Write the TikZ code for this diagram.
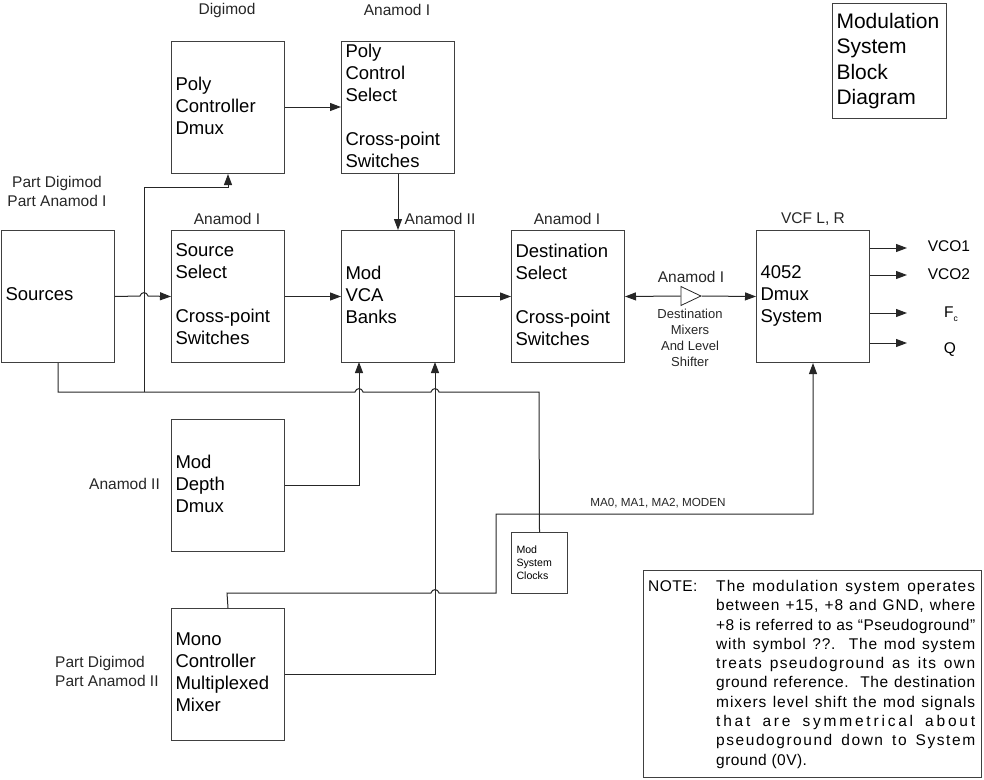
\documentclass[tikz,border=0pt]{standalone}
\usepackage{fontspec}
\setmainfont{Liberation Sans}
\usetikzlibrary{arrows.meta,shapes.geometric}

\newcommand{\hopat}[2]{-- ({#1-4},#2) .. controls ({#1-3},{#2-4.5}) and ({#1+3},{#2-4.5}) .. ({#1+4},#2)}
\newcommand{\noteline}[2][0]{\makebox[259pt][s]{\addfontfeature{LetterSpace=#1}#2}\\}

\tikzset{
  blockbox/.style={draw=black!75,line width=1pt,anchor=north west,minimum height=132pt,text width=105pt,
    inner xsep=4pt,inner ysep=0pt,align=left,font=\fontsize{18.5}{22}\selectfont,
    execute at end node={\\[-18pt]\mbox{}}},
  titlebox/.style={draw=black!75,line width=1pt,anchor=north west,minimum height=115pt,text width=106pt,
    inner xsep=4pt,inner ysep=0pt,align=left,font=\fontsize{21}{25.5}\selectfont},
  tag/.style={inner sep=0pt,align=center,text=black!85,font=\fontsize{15.5}{19}\selectfont},
  outtag/.style={inner sep=0pt,font=\fontsize{15.5}{19}\selectfont},
  wire/.style={draw=black!85,line width=1pt,>={Triangle[length=11pt,width=8pt]}}
}

\begin{document}
\begin{tikzpicture}[x=1pt,y=-1pt]
\useasboundingbox (0,0) rectangle (984,779);

\node[blockbox] (polydmux) at (171,41) {Poly\\Controller\\Dmux};
\node[blockbox] (polysel) at (341,41) {Poly\\Control\\Select\\\mbox{}\\Cross-point\\Switches};
\node[blockbox] (sources) at (1,230) {Sources};
\node[blockbox] (srcsel) at (171,230) {Source\\Select\\\mbox{}\\Cross-point\\Switches};
\node[blockbox] (vca) at (341,230) {Mod\\VCA\\Banks};
\node[blockbox] (dstsel) at (511,230) {Destination\\Select\\\mbox{}\\Cross-point\\Switches};
\node[blockbox] (dmux) at (756,230) {4052\\Dmux\\System};
\node[blockbox] (depth) at (171,419) {Mod\\Depth\\Dmux};
\node[blockbox] (mono) at (171,608) {Mono\\Controller\\Multiplexed\\Mixer};
\node[draw=black!75,line width=1pt,anchor=north west,minimum height=61pt,text width=46pt,inner xsep=5pt,
  inner ysep=0pt,align=left,font=\fontsize{10.6}{13}\selectfont] (clocks) at (511,532) {Mod\\System\\Clocks};
\node[titlebox] (title) at (832,3) {Modulation\\System\\Block\\Diagram};

\node[draw=black!75,line width=1pt,anchor=north west,minimum width=338pt,minimum height=207pt] (notebox) at (643,570) {};
\node[anchor=north west,inner sep=0pt,font=\fontsize{15.5}{19}\addfontfeature{LetterSpace=3}\selectfont] (notehead) at (648,580) {NOTE:};
\node[anchor=north west,inner sep=0pt,align=left,font=\fontsize{15.5}{19.3}\selectfont] (notetext) at (716,580) {%
  \noteline[7]{The modulation system operates}
  \noteline[5]{between +15, +8 and GND, where}
  \noteline[3]{+8 is referred to as “Pseudoground”}
  \noteline[5]{with symbol ??.\ \ The mod system}
  \noteline[9]{treats pseudoground as its own}
  \noteline[4]{ground reference.\ \ The destination}
  \noteline[6]{mixers level shift the mod signals}
  \noteline[18]{that are symmetrical about}
  \noteline[10]{pseudoground down to System}
  \addfontfeature{LetterSpace=3}ground (0V).};

\node[tag] (lbdigi) at (227,10) {Digimod};
\node[tag] (lbsel) at (397,10) {Anamod I};
\node[tag] (lbparts) at (57,191.5) {Part Digimod\\Part Anamod I};
\node[tag] (lbsrc) at (227,219) {Anamod I};
\node[tag] (lbvca) at (440,219) {Anamod II};
\node[tag] (lbdst) at (567,219) {Anamod I};
\node[tag] (lbvcf) at (813,219) {VCF L, R};
\node[tag] (lbamp) at (691,277) {Anamod I};
\node[tag,font=\fontsize{13}{16}\selectfont] (lbmix) at (690,338) {Destination\\Mixers\\And Level\\Shifter};
\node[tag] (lbdepth) at (124.5,484) {Anamod II};
\node[tag,align=left,anchor=west] (lbmono) at (55,671.5) {Part Digimod\\Part Anamod II};
\node[tag,font=\fontsize{11.7}{14}\selectfont] (lbma) at (658,503) {MA0, MA1, MA2, MODEN};

\node[draw=black!85,line width=.8pt,fill=white,isosceles triangle,isosceles triangle stretches,minimum width=19pt,
  minimum height=20pt,inner sep=0pt,anchor=lower side] (amp) at (680.5,296) {};

\coordinate (tap) at (144,392);
\coordinate (tapup) at (144,187);
\coordinate (vcaleft) at (359,362);
\coordinate (vcaright) at (435,362);
\coordinate (busend) at (539,392);
\coordinate (syncl) at (227,593);
\coordinate (syncr) at (496,593);
\coordinate (syncu) at (496,514);

\foreach \name/\ypos in {vcoa/248,vcob/275,fc/313,q/343} {
  \coordinate (\name end) at (907,\ypos);
  \draw[wire,->] (dmux.east |- \name end) -- (\name end);
}
\node[outtag] (vcoatxt) at (949,246) {VCO1};
\node[outtag] (vcobtxt) at (949,274) {VCO2};
\node[outtag] (fctxt) at (951,314) {F\raisebox{-3.5pt}{\fontsize{8.5}{8.5}\selectfont c}};
\node[outtag] (qtxt) at (950,350) {Q};

\draw[wire,->] (polydmux.east |- 0,107) -- (polysel.west |- 0,107);
\draw[wire,->] (polysel.south) -- (vca.north);
\draw[wire,->] (sources.east) \hopat{144}{296} -- (srcsel.west);
\draw[wire,->] (srcsel.east) -- (vca.west);
\draw[wire,->] (vca.east) -- (dstsel.west);
\draw[wire,<-] (dstsel.east) -- (amp.lower side);
\draw[wire,->] (amp.apex) -- (dmux.west);
\draw[wire,->] (tap) -- (tapup) -| (polydmux.south);
\draw[wire] (sources.south) |- (tap) \hopat{359}{392} \hopat{435}{392} -- (busend) -- (clocks.north);
\draw[wire,->] (depth.east) -| (vcaleft);
\draw[wire,->] (mono.east) -| (vcaright);
\draw[wire,->] (mono.north) -- (syncl) \hopat{435}{593} -- (syncr) -- (syncu) -| (dmux.south);

\end{tikzpicture}
\end{document}
